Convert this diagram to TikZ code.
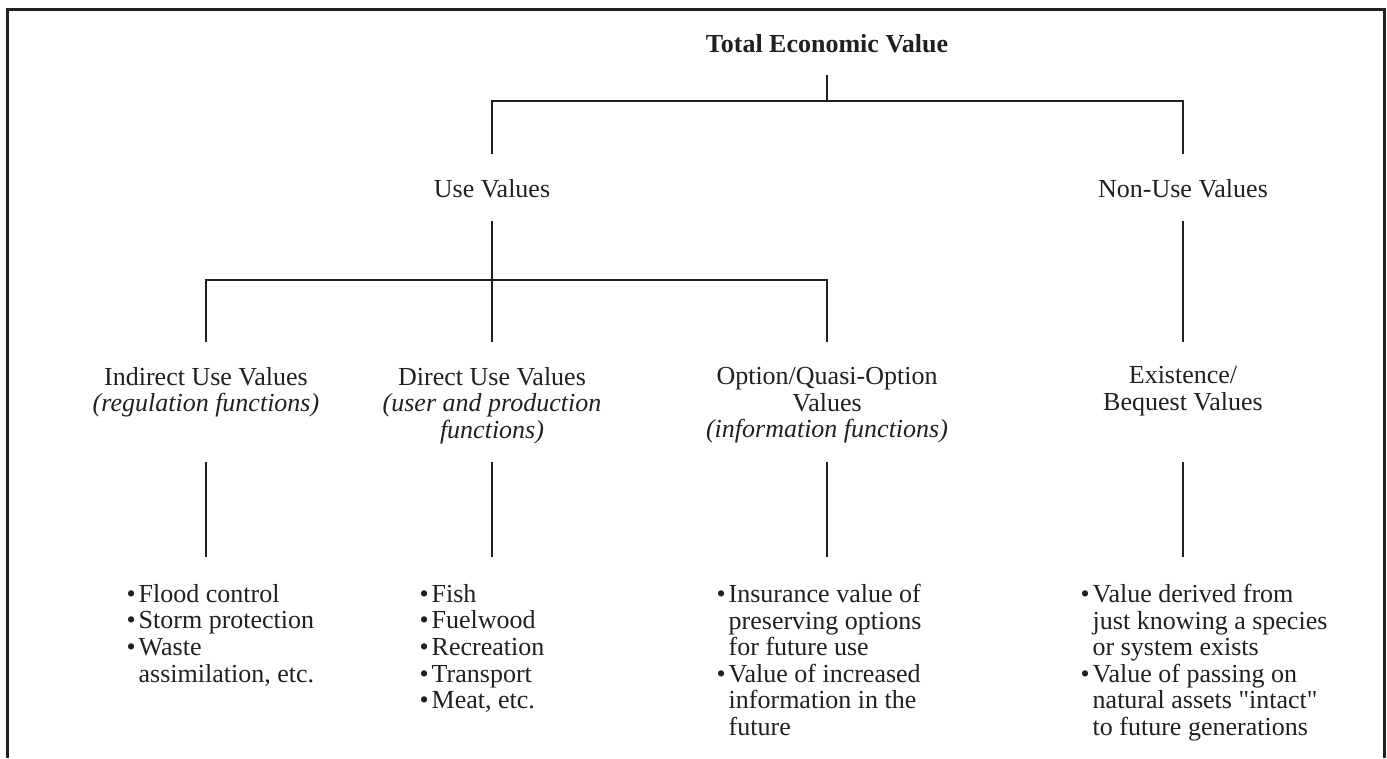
\documentclass[tikz,border=0pt]{standalone}
\usepackage{fontspec}
\setmainfont{Liberation Serif}
\definecolor{ink}{RGB}{35,31,32}
\newcommand{\bul}{\makebox[12pt][l]{\textbullet}}
\newcommand{\cont}{\hspace*{12pt}}

\begin{document}
\begin{tikzpicture}[x=1pt,y=-1pt,
  every node/.style={inner sep=0pt,text=ink,font=\fontsize{26}{26.6}\selectfont},
  title/.style={text height=18pt,text depth=6pt,anchor=base},
  group/.style={align=center,anchor=north},
  items/.style={align=left,anchor=north west},
  link/.style={draw=ink,line width=2.2pt},
  frame/.style={draw=ink,line width=3pt}]
\useasboundingbox (0,0) rectangle (1387,758);
\draw[frame] (7.5,758) -- (7.5,9.5) -- (1384,9.5) -- (1384,758);

\node[title,font=\fontsize{26}{26.6}\selectfont\bfseries] (tev) at (827,52) {Total Economic Value};
\node[title] (use) at (492,197) {Use Values};
\node[title] (nonuse) at (1183,197) {Non-Use Values};

\node[group] (indirect) at (206,367) {Indirect Use Values\\\textit{(regulation functions)}};
\node[group] (direct) at (492,367) {Direct Use Values\\\textit{(user and production}\\\textit{functions)}};
\node[group] (option) at (827,367) {Option/Quasi-Option\\Values\\\textit{(information functions)}};
\node[group] (exist) at (1183,366) {Existence/\\Bequest Values};

\node[items] (flood) at (126.5,584) {\bul Flood control\\\bul Storm protection\\\bul Waste\\\cont assimilation, etc.};
\node[items] (fish) at (419.5,584) {\bul Fish\\\bul Fuelwood\\\bul Recreation\\\bul Transport\\\bul Meat, etc.};
\node[items] (insur) at (716.5,584) {\bul Insurance value of\\\cont preserving options\\\cont for future use\\\bul Value of increased\\\cont information in the\\\cont future};
\node[items] (derived) at (1080.5,584) {\bul Value derived from\\\cont just knowing a species\\\cont or system exists\\\bul Value of passing on\\\cont natural assets \textquotedbl intact\textquotedbl\\\cont to future generations};

\draw[link] ([yshift=-17pt]tev.south) -- ++(0,26) -| ([yshift=25pt]use.north);
\draw[link] ([yshift=-17pt]tev.south) -- ++(0,26) -| ([yshift=25pt]nonuse.north);
\draw[link] ([yshift=-18pt]use.south) -- ([yshift=25pt]direct.north);
\draw[link] ([yshift=-18pt]use.south) -- ++(0,59) -| ([yshift=25pt]indirect.north);
\draw[link] ([yshift=-18pt]use.south) -- ++(0,59) -| ([yshift=25pt]option.north);
\draw[link] ([yshift=-18pt]nonuse.south) -- ([yshift=24pt]exist.north);

\draw[link] ([yshift=122pt]indirect.north |- flood.north) -- ([yshift=27pt]indirect.north |- flood.north);
\draw[link] ([yshift=122pt]direct.north |- fish.north) -- ([yshift=27pt]direct.north |- fish.north);
\draw[link] ([yshift=122pt]option.north |- insur.north) -- ([yshift=27pt]option.north |- insur.north);
\draw[link] ([yshift=122pt]exist.north |- derived.north) -- ([yshift=27pt]exist.north |- derived.north);
\end{tikzpicture}
\end{document}
